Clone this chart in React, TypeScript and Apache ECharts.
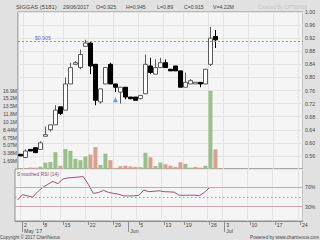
import React, { useEffect, useRef } from "react";
import * as echarts from "echarts";

// ---- data ----
const stockName = "SIGGAS (5181)";
const chartedBy = "Charted By CPTEH38";
const dates = [
  "2017-04-28",
  "2017-05-02", "2017-05-03", "2017-05-04", "2017-05-05",
  "2017-05-08", "2017-05-09", "2017-05-11", "2017-05-12",
  "2017-05-15", "2017-05-16", "2017-05-17", "2017-05-18", "2017-05-19",
  "2017-05-22", "2017-05-23", "2017-05-24", "2017-05-25", "2017-05-26",
  "2017-05-29", "2017-05-30", "2017-05-31", "2017-06-01", "2017-06-02",
  "2017-06-05", "2017-06-06", "2017-06-07", "2017-06-08", "2017-06-09",
  "2017-06-13", "2017-06-14", "2017-06-15", "2017-06-16",
  "2017-06-19", "2017-06-20", "2017-06-21", "2017-06-22", "2017-06-23",
  "2017-06-28", "2017-06-29",
  "2017-06-30",
  "2017-07-03", "2017-07-04", "2017-07-05", "2017-07-06", "2017-07-07",
  "2017-07-10", "2017-07-11", "2017-07-12", "2017-07-13", "2017-07-14",
  "2017-07-17", "2017-07-18", "2017-07-19", "2017-07-20", "2017-07-21",
  "2017-07-24",
];
const opens = [0.565, 0.555, 0.58, 0.585, 0.58, 0.62, 0.64, 0.655, 0.71, 0.70, 0.78, 0.84, 0.83, 0.895, 0.905, 0.84, 0.725, 0.78, 0.84, 0.78, 0.755, 0.77, 0.74, 0.74, 0.735, 0.75, 0.835, 0.81, 0.83, 0.845, 0.825, 0.835, 0.82, 0.77, 0.78, 0.78, 0.785, 0.78, 0.84, 0.925];
const highs = [0.565, 0.58, 0.58, 0.585, 0.605, 0.65, 0.655, 0.715, 0.71, 0.80, 0.845, 0.85, 0.885, 0.915, 0.91, 0.84, 0.765, 0.83, 0.845, 0.78, 0.77, 0.77, 0.74, 0.74, 0.745, 0.87, 0.86, 0.855, 0.86, 0.855, 0.825, 0.835, 0.82, 0.815, 0.795, 0.785, 0.785, 0.825, 0.955, 0.945];
const lows = [0.56, 0.555, 0.575, 0.57, 0.58, 0.62, 0.635, 0.655, 0.685, 0.70, 0.78, 0.84, 0.825, 0.895, 0.81, 0.715, 0.72, 0.78, 0.78, 0.755, 0.72, 0.733, 0.733, 0.73, 0.733, 0.75, 0.81, 0.81, 0.83, 0.83, 0.82, 0.82, 0.77, 0.77, 0.78, 0.78, 0.77, 0.78, 0.835, 0.89];
const closes = [0.56, 0.575, 0.575, 0.57, 0.60, 0.625, 0.655, 0.70, 0.69, 0.78, 0.83, 0.845, 0.87, 0.905, 0.835, 0.73, 0.765, 0.83, 0.78, 0.77, 0.77, 0.74, 0.735, 0.73, 0.745, 0.84, 0.815, 0.83, 0.845, 0.83, 0.82, 0.82, 0.77, 0.785, 0.79, 0.785, 0.78, 0.825, 0.92, 0.915];
const volumesM = [0.05, 0.1, 0.3, 0.3, 0.5, 1.37, 1.5, 3.6, 0.7, 4.3, 3.9, 2.2, 1.9, 2.7, 3.1, 4.7, 0.87, 3.3, 1.9, 0.25, 0.6, 0.7, 0.55, 0.45, 0.4, 3.5, 2.5, 0.65, 1.4, 1.0, 0.7, 0.45, 1.45, 1.1, 0.3, 0.45, 0.3, 0.7, 16.8, 4.22];
const rsi = [43.5, 54.8, 52.2, 49.5, 61, 70, 76.3, 82.2, 77.6, 87.5, 89.5, 90.3, 91.3, 92.3, 76.3, 57.4, 59, 63.7, 59.4, 57.4, 55.6, 52.2, 52.2, 52.2, 53.4, 64.3, 60.9, 61.7, 62.8, 60.9, 60.5, 59.9, 53.4, 53.4, 53.6, 53.6, 52.6, 59.7, 69.4, 69.4];
const rsiLevels = [70, 30];
const rsiMid = 50;
const resistancePrice = 0.905;
const signalIdx = [19];
const signalPrice = [0.732];
const weekTickIdx = [1, 5, 9, 14, 19, 24, 29, 33, 38, 41, 46, 51, 56];
const weekTickLabels = ["2", "8", "15", "22", "29", "5", "13", "19", "26", "3", "10", "17", "24"];
const monthTickIdx = [1, 22, 41];
const monthTickLabels = ["May '17", "Jun", "Jul"];
const volTickStep = 1.6875e6;
const volTickLabels = ["1.69M", "3.38M", "5.07M", "6.75M", "8.44M", "10.1M", "11.8M", "13.5M", "15.2M", "16.9M"];

// ---- styles ----
const FONT = "Liberation Sans, Arial, sans-serif";
const TXT = "#444";
const GRID_LINE = "#e3e3e3";
const UP_VOL = "#98c08a";
const DN_VOL = "#d9a18c";

export default function App() {
  const ref = useRef<HTMLDivElement>(null);
  useEffect(() => {
    const chart = echarts.init(ref.current!, null, { renderer: "svg" });
    const last = closes.length - 1;
    const d = dates[last].split("-");
    const headerDate = `${d[2]}/${d[1]}/${d[0]}`;
    const candleData = opens.map((o, i) => [o, closes[i], lows[i], highs[i]]);
    const volData = volumesM.map((v, i) => {
      const prev = i === 0 ? opens[0] : closes[i - 1];
      return { value: v * 1e6, itemStyle: { color: closes[i] > prev ? UP_VOL : DN_VOL } };
    });
    const weekInterval = (index: number) => weekTickIdx.includes(index);
    const monthInterval = (index: number) => monthTickIdx.includes(index);
    const headerText = (text: string, x: number, size = 5.2, fill = TXT) => ({
      type: "text",
      x,
      y: 6.5,
      silent: true,
      style: { text, fill, fontSize: size, fontFamily: FONT, verticalAlign: "middle", align: "left" },
    });

    chart.setOption({
      animation: false,
      backgroundColor: "#e1e1e1",
      grid: [
        { left: 15, right: 17, top: 12, height: 157, show: true, backgroundColor: "#f5f5f5", borderColor: "#8f8f8f", borderWidth: 1 },
        { left: 15, right: 17, top: 169, height: 52, show: true, backgroundColor: "#f5f5f5", borderColor: "#8f8f8f", borderWidth: 1 },
      ],
      xAxis: [
        {
          type: "category", gridIndex: 0, data: dates, boundaryGap: true,
          axisLine: { show: false }, axisTick: { show: false }, axisLabel: { show: false },
          splitLine: { show: true, interval: weekInterval, lineStyle: { color: GRID_LINE, width: 1 } },
        },
        {
          type: "category", gridIndex: 1, data: dates, boundaryGap: true, position: "bottom",
          axisLine: { show: true, lineStyle: { color: "#8f8f8f" } },
          axisTick: { show: true, interval: weekInterval, alignWithLabel: true, length: 4, lineStyle: { color: "#8f8f8f" } },
          axisLabel: {
            interval: weekInterval, margin: 1.5, fontSize: 5.2, fontFamily: FONT, color: TXT, align: "left",
            padding: [0, 0, 0, 1.5],
            formatter: (v: string) => weekTickLabels[weekTickIdx.indexOf(dates.indexOf(v))] ?? "",
          },
          splitLine: { show: true, interval: weekInterval, lineStyle: { color: GRID_LINE, width: 1 } },
        },
        {
          type: "category", gridIndex: 1, data: dates, boundaryGap: true, position: "bottom",
          axisLine: { show: false },
          axisTick: { show: true, interval: monthInterval, alignWithLabel: true, length: 11, lineStyle: { color: "#8f8f8f" } },
          axisLabel: {
            interval: monthInterval, margin: 7, fontSize: 5.2, fontFamily: FONT, color: TXT, align: "left",
            padding: [0, 0, 0, 1.5],
            formatter: (v: string) => monthTickLabels[monthTickIdx.indexOf(dates.indexOf(v))] ?? "",
          },
          splitLine: { show: false },
        },
      ],
      yAxis: [
        {
          type: "value", gridIndex: 0, position: "right", min: 0.52, max: 1.0, interval: 0.04,
          axisLine: { show: false }, axisTick: { show: false },
          axisLabel: {
            showMinLabel: false, margin: 2, fontSize: 5.2, fontFamily: FONT, color: TXT,
            formatter: (v: number) => v.toFixed(2),
          },
          splitLine: { show: true, lineStyle: { color: GRID_LINE, width: 1 } },
        },
        {
          type: "value", gridIndex: 0, position: "left", min: 0, max: volTickStep * 20, interval: volTickStep,
          axisLine: { show: false }, axisTick: { show: false }, splitLine: { show: false },
          axisLabel: {
            margin: 1, fontSize: 5, fontFamily: FONT, color: TXT,
            formatter: (v: number) => {
              const k = Math.round(v / volTickStep);
              return k >= 1 && k <= volTickLabels.length ? volTickLabels[k - 1] : "";
            },
          },
        },
        {
          type: "value", gridIndex: 1, position: "right", min: 0, max: 108, interval: 10,
          axisLine: { show: false }, axisTick: { show: false }, splitLine: { show: false },
          axisLabel: {
            margin: 2, fontSize: 5.2, fontFamily: FONT, color: TXT,
            formatter: (v: number) => (rsiLevels.includes(v) ? `${v}%` : ""),
          },
        },
      ],
      series: [
        {
          type: "bar", name: "Volume", xAxisIndex: 0, yAxisIndex: 1, data: volData, barWidth: 4, z: 1, silent: true,
        },
        {
          type: "candlestick", name: "Price", xAxisIndex: 0, yAxisIndex: 0, data: candleData, barWidth: 4, z: 3,
          itemStyle: { color: "#ffffff", color0: "#000000", borderColor: "#5a5a5a", borderColor0: "#000000", borderWidth: 1 },
          markLine: {
            silent: true, symbol: "none",
            lineStyle: { type: [2, 2], color: "#8a8ae0", width: 1 },
            label: {
              position: "insideStartTop", formatter: () => `$${resistancePrice.toFixed(3)}`,
              color: "#6a6ad8", fontSize: 5.2, fontFamily: FONT, distance: [17, 1],
            },
            data: [{ yAxis: resistancePrice }],
          },
        },
        {
          type: "scatter", name: "Signal", xAxisIndex: 0, yAxisIndex: 0, z: 4, silent: true,
          symbol: "triangle", symbolSize: [5, 5], itemStyle: { color: "#3d8fd6" },
          data: signalIdx.map((i, k) => [dates[i], signalPrice[k]]),
        },
        {
          type: "line", name: "RSI", xAxisIndex: 1, yAxisIndex: 2, data: rsi, showSymbol: false, z: 3,
          lineStyle: { color: "#a2507c", width: 1 },
          markLine: {
            silent: true, symbol: "none", label: { show: false },
            data: [
              ...rsiLevels.map((l) => ({ yAxis: l, lineStyle: { type: "solid", color: "#cfa4b2", width: 1 } })),
              { yAxis: rsiMid, lineStyle: { type: [1.5, 2.5], color: "#9a9a9a", width: 1 } },
            ],
          },
        },
      ],
      graphic: [
        headerText(stockName, 16, 5.8),
        headerText(headerDate, 63),
        headerText(`O=${opens[last]}`, 96),
        headerText(`H=${highs[last]}`, 126),
        headerText(`L=${lows[last]}`, 157),
        headerText(`C=${closes[last]}`, 184),
        headerText(`V=${volumesM[last].toFixed(2)}M`, 213),
        headerText(chartedBy, 258, 5, "#c6c6c6"),
        {
          type: "text", x: 17, y: 174, silent: true,
          style: { text: "Smoothed RSI (14)", fill: "#8a4a6c", fontSize: 4.9, fontFamily: FONT, verticalAlign: "middle" },
        },
        {
          type: "text", x: 0, y: 237, silent: true,
          style: { text: "Copyright © 2017 ChartNexus", fill: TXT, fontSize: 4.5, fontFamily: FONT, verticalAlign: "middle" },
        },
        {
          type: "text", x: 319, y: 237, silent: true,
          style: { text: "Powered by www.chartnexus.com", fill: TXT, fontSize: 4.6, fontFamily: FONT, verticalAlign: "middle", align: "right" },
        },
      ],
    });
    return () => chart.dispose();
  }, []);
  return <div ref={ref} style={{ position: "fixed", left: 0, top: 0, width: 320, height: 240 }} />;
}
